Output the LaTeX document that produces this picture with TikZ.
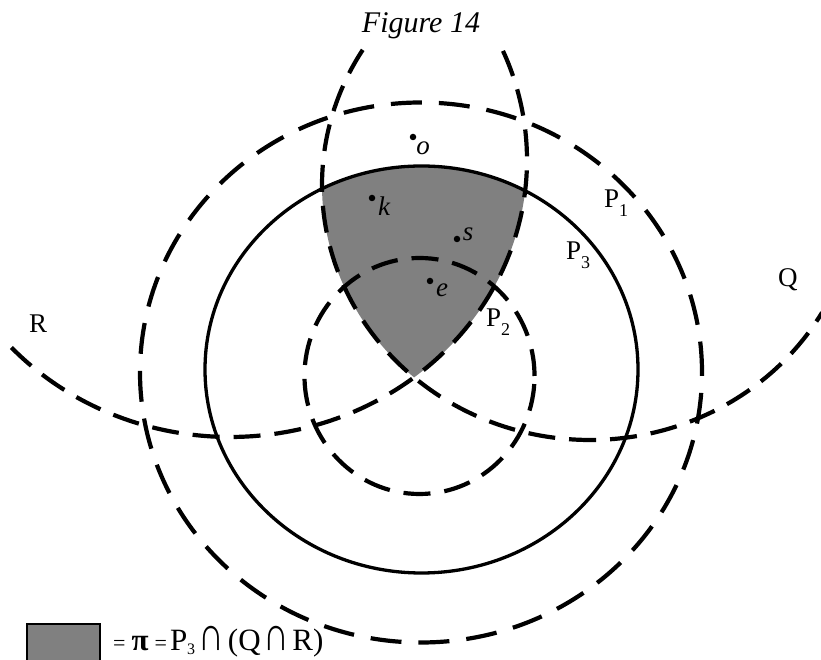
\documentclass[tikz,border=0pt]{standalone}
\usepackage{fontspec}
\usepackage{graphicx}
\setmainfont{Liberation Serif}
\newcommand{\sbs}[1]{\raisebox{-9pt}{\fontsize{18}{18}\selectfont #1}}
\newcommand{\lsbs}[1]{\raisebox{-4pt}{\fontsize{16}{16}\selectfont #1}}
\newcommand{\bigcapsym}{\scalebox{1.15}[1.55]{∩}}
\definecolor{regiongray}{RGB}{128,128,128}
\begin{document}
\begin{tikzpicture}[x=1pt,y=1pt,
  dashline/.style={line width=4.2pt, dash pattern=on 27pt off 14pt},
  bigdash/.style={line width=4.2pt, dash pattern=on 31pt off 17pt},
  solidline/.style={line width=3.3pt},
  lbl/.style={font=\fontsize{27}{27}\selectfont, inner sep=0pt},
  ptlbl/.style={font=\fontsize{27}{27}\selectfont\itshape, inner sep=0pt},
  ptdot/.style={circle, fill=black, inner sep=0pt, minimum size=6.5pt},
]
\useasboundingbox (0,0) rectangle (821,660);
\clip (0,0) rectangle (821,660);
% shaded region P3 cap Q cap R
\begin{scope}
  \clip (590,475) ellipse [x radius=268, y radius=255];
  \clip (230,500) ellipse [x radius=297, y radius=277];
  \fill[regiongray] (421.5,290.5) ellipse [x radius=216.5, y radius=203.5];
\end{scope}
% P1
\draw[bigdash] (421,287.5) ellipse [x radius=281, y radius=270];
% P3
\draw[solidline] (421.5,290.5) ellipse [x radius=216.5, y radius=203.5];
% P2
\draw[dashline] (419.5,284) ellipse [x radius=115, y radius=118];
% Q
\draw[dashline] plot[domain=148:330, samples=150, smooth] ({590+268*cos(\x)},{475+255*sin(\x)});
% R
\draw[dashline] plot[domain=-137.4:23.4, samples=150, smooth] ({230+297*cos(\x)},{500+277*sin(\x)});
% points
\node[ptdot] (dO) at (413,523) {};
\node[ptlbl] (lO) at (423,512) {o};
\node[ptdot] (dK) at (372,462) {};
\node[ptlbl] (lK) at (384,454) {k};
\node[ptdot] (dS) at (457,421) {};
\node[ptlbl] (lS) at (468,426) {s};
\node[ptdot] (dE) at (430,379) {};
\node[ptlbl] (lE) at (442,370) {e};
% labels
\node[lbl, anchor=base west] (lP1) at (604,452) {P\sbs{1}};
\node[lbl, anchor=base west] (lP3) at (566,400) {P\sbs{3}};
\node[lbl, anchor=base west] (lP2) at (486,333) {P\sbs{2}};
\node[lbl, anchor=base west] (lQ) at (778,373) {Q};
\node[lbl, anchor=base west] (lR) at (29,327) {R};
\node[font=\fontsize{30}{30}\selectfont\itshape, inner sep=0pt, anchor=base] (title) at (421,627) {Figure 14};
% legend
\draw[line width=1.2pt, fill=regiongray] (27,36) rectangle (100,-3);
\node[font=\fontsize{31}{31}\selectfont, inner sep=0pt, anchor=base west] (legend) at (113,9)
  {{\fontsize{22}{22}\selectfont =}\hspace{6pt}{\bfseries π}\hspace{6pt}{\fontsize{22}{22}\selectfont =}\hspace{3pt}P\lsbs{3}\hspace{3pt}\bigcapsym\hspace{4pt}(Q\hspace{3pt}\bigcapsym\hspace{3pt}R)};
\end{tikzpicture}
\end{document}
